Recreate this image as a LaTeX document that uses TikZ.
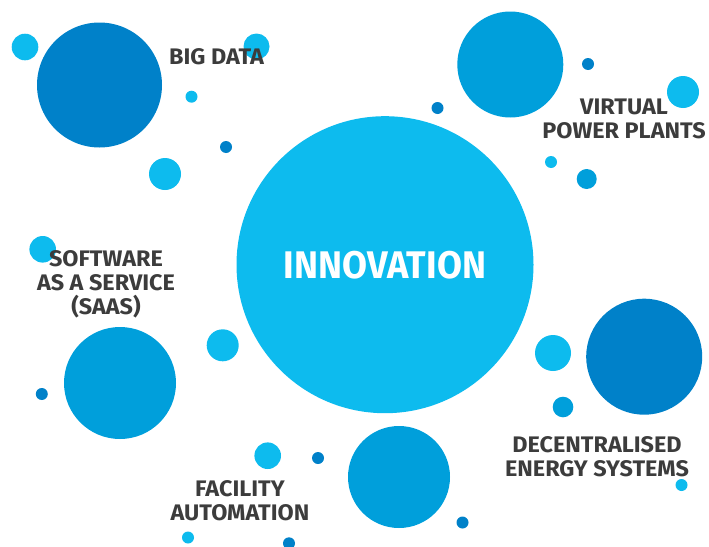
\documentclass[tikz,border=0pt]{standalone}
\usepackage{fontspec}
\setmainfont{Fira Sans}
\usepackage{tikz}
\usetikzlibrary{shapes}
\definecolor{dkblue}{HTML}{0081C9}
\definecolor{mdblue}{HTML}{009FDB}
\definecolor{ltblue}{HTML}{0DBBEE}
\definecolor{txtgray}{HTML}{3C3C3C}
\tikzstyle{bubble} = [circle, inner sep=0pt, minimum size=#1]
\tikzstyle{lbl} = [text=txtgray, align=center, inner sep=0pt, font=\bfseries\fontsize{22.5}{24}\selectfont\addfontfeature{FakeStretch=1.04}]

\begin{document}
\begin{tikzpicture}[x=1pt,y=-1pt]
	\useasboundingbox (0,0) rectangle (709,546);
	% main bubbles
	\node[bubble=297pt, fill=ltblue, text=white, font=\bfseries\fontsize{38.5}{40}\selectfont\addfontfeature{FakeStretch=0.94}](innov) at (385,264.7){INNOVATION};
	\node[bubble=125pt, fill=dkblue](bigdata) at (99.5,85){};
	\node[bubble=106pt, fill=mdblue](vpp) at (510.3,64.5){};
	\node[bubble=112pt, fill=mdblue](saas) at (120,383){};
	\node[bubble=102pt, fill=mdblue](facil) at (399,477){};
	\node[bubble=116pt, fill=dkblue](decen) at (644.2,356.7){};
	% small dots
	\fill[ltblue] (25,47) circle (13.3pt);
	\fill[ltblue] (256.5,46.5) circle (13pt);
	\fill[ltblue] (191.5,96.7) circle (6pt);
	\fill[dkblue] (226,147) circle (6pt);
	\fill[ltblue] (165,174) circle (16pt);
	\fill[dkblue] (588,64) circle (6pt);
	\fill[ltblue] (683,92) circle (16pt);
	\fill[dkblue] (437.5,108) circle (6pt);
	\fill[ltblue] (551,162) circle (6pt);
	\fill[mdblue] (586.7,179) circle (10pt);
	\fill[ltblue] (42.7,249.3) circle (13.3pt);
	\fill[ltblue] (222.7,345.3) circle (16pt);
	\fill[dkblue] (41.8,394) circle (6pt);
	\fill[ltblue] (267.7,455.7) circle (13.3pt);
	\fill[dkblue] (318,458) circle (6pt);
	\fill[dkblue] (462.5,522.5) circle (6pt);
	\fill[ltblue] (188,537.5) circle (6pt);
	\fill[dkblue] (289,543.3) circle (6pt);
	\fill[ltblue] (553,353) circle (18pt);
	\fill[mdblue] (563,407) circle (10.3pt);
	\fill[ltblue] (681.5,485) circle (6pt);
	% labels
	\node[lbl](bigdatatxt) at (216.5,57){BIG DATA};
	\node[lbl](vpptxt) at (624,119){VIRTUAL\\POWER PLANTS};
	\node[lbl](saastxt) at (106,284){SOFTWARE\\AS A SERVICE\\(SAAS)};
	\node[lbl](faciltxt) at (240,501){FACILITY\\AUTOMATION};
	\node[lbl](decentxt) at (597,456.5){DECENTRALISED\\ENERGY SYSTEMS};
\end{tikzpicture}
\end{document}
